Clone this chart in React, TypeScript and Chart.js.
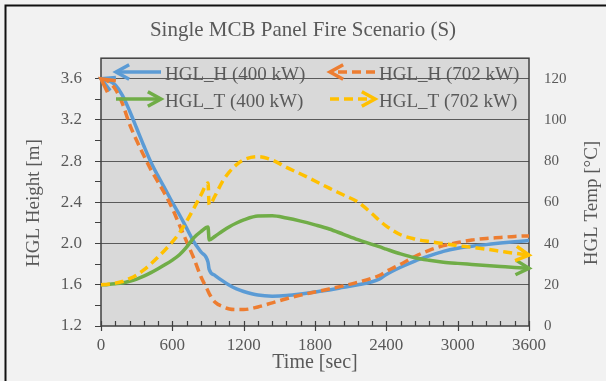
import React, { useEffect, useRef } from 'react';
import { Chart, registerables } from 'chart.js';

Chart.register(...registerables);

// ---- data ----
const times = [0, 60, 120, 180, 240, 300, 360, 420, 480, 540, 600, 660, 720, 780, 840, 900, 910, 960, 1020, 1080, 1140, 1200, 1320, 1440, 1560, 1680, 1800, 1920, 2040, 2160, 2280, 2340, 2400, 2520, 2640, 2760, 2880, 3000, 3120, 3240, 3360, 3480, 3600];

const hglH400 = [3.60, 3.585, 3.54, 3.44, 3.29, 3.12, 2.95, 2.79, 2.655, 2.53, 2.40, 2.28, 2.15, 2.02, 1.92, 1.82, 1.75, 1.69, 1.64, 1.595, 1.56, 1.535, 1.50, 1.49, 1.495, 1.51, 1.53, 1.55, 1.575, 1.60, 1.63, 1.655, 1.70, 1.77, 1.83, 1.88, 1.925, 1.955, 1.975, 1.99, 2.005, 2.018, 2.03];
const hglH702 = [3.60, 3.575, 3.50, 3.36, 3.16, 3.00, 2.855, 2.716, 2.597, 2.477, 2.34, 2.18, 2.02, 1.86, 1.68, 1.54, 1.515, 1.43, 1.39, 1.365, 1.36, 1.36, 1.385, 1.425, 1.465, 1.50, 1.53, 1.56, 1.59, 1.625, 1.665, 1.69, 1.73, 1.80, 1.875, 1.935, 1.98, 2.01, 2.035, 2.05, 2.06, 2.07, 2.075];
const hglT400 = [20, 20.2, 20.5, 20.9, 21.7, 22.8, 24.2, 25.9, 27.8, 29.8, 32.0, 34.6, 38.3, 42.8, 45.8, 48.0, 41.8, 43.6, 46.0, 48.2, 50.0, 51.5, 53.4, 53.5, 52.4, 50.9, 49.1, 47.1, 44.5, 41.9, 39.6, 38.5, 37.3, 35.0, 33.1, 31.9, 31.0, 30.4, 29.9, 29.4, 28.9, 28.4, 28.0];
const hglT702 = [20, 20.3, 20.8, 21.6, 23.0, 24.8, 27.2, 30.2, 33.5, 37.0, 40.8, 45.2, 50.8, 57.0, 63.5, 69.4, 58.8, 63.3, 70.0, 74.8, 78.3, 80.7, 82.2, 80.6, 77.0, 73.8, 70.4, 66.9, 63.6, 60.2, 54.5, 51.3, 48.5, 44.3, 42.2, 41.0, 40.0, 39.0, 38.2, 37.3, 36.3, 35.3, 34.4];

const seriesLabels = ['HGL_H (400 kW)', 'HGL_H (702 kW)', 'HGL_T (400 kW)', 'HGL_T (702 kW)'];

const xTicks = [0, 600, 1200, 1800, 2400, 3000, 3600];
const leftTicks = [1.2, 1.6, 2.0, 2.4, 2.8, 3.2, 3.6];
const rightTicks = [0, 20, 40, 60, 80, 100, 120];

const leftTitle = 'HGL Height [m]';
const rightTitle = 'HGL Temp [°C]';

// ---- styling ----
const FONT = "'Times New Roman', 'Liberation Serif', serif";
const TEXT = '#595959';
const BLUE = '#5b9bd5';
const ORANGE = '#ed7d31';
const GREEN = '#70ad47';
const YELLOW = '#ffc000';

const pts = (vals: number[]) => times.map((t, i) => ({ x: t, y: vals[i] }));

function chevron(ctx: CanvasRenderingContext2D, x: number, y: number, angle: number, color: string) {
  const size = 15;
  const half = 0.5;
  ctx.save();
  ctx.setLineDash([]);
  ctx.strokeStyle = color;
  ctx.lineWidth = 3.5;
  ctx.lineJoin = 'miter';
  ctx.lineCap = 'butt';
  const a1 = angle + Math.PI - half;
  const a2 = angle + Math.PI + half;
  ctx.beginPath();
  ctx.moveTo(x + size * Math.cos(a1), y + size * Math.sin(a1));
  ctx.lineTo(x, y);
  ctx.lineTo(x + size * Math.cos(a2), y + size * Math.sin(a2));
  ctx.stroke();
  ctx.restore();
}

const backgroundPlugin = {
  id: 'bgPlugin',
  beforeDraw(chart: any) {
    const { ctx, chartArea: a, width, height } = chart;
    ctx.save();
    ctx.fillStyle = '#f2f2f2';
    ctx.fillRect(0, 0, width, height);
    ctx.strokeStyle = '#111111';
    ctx.lineWidth = 2;
    ctx.beginPath();
    ctx.moveTo(5.5, height);
    ctx.lineTo(5.5, 5.5);
    ctx.lineTo(width, 5.5);
    ctx.stroke();
    ctx.fillStyle = '#d9d9d9';
    ctx.fillRect(a.left, a.top, a.right - a.left, a.bottom - a.top);
    ctx.restore();
  },
};

const framePlugin = {
  id: 'framePlugin',
  beforeDatasetsDraw(chart: any) {
    const { ctx, chartArea: a, scales } = chart;
    const xs = scales.x;
    ctx.save();
    ctx.strokeStyle = '#404040';
    ctx.lineWidth = 1.5;
    ctx.strokeRect(a.left, a.top, a.right - a.left, a.bottom - a.top);
    ctx.lineWidth = 1.2;
    ctx.beginPath();
    for (let t = 0; t <= 3600; t += 120) {
      const px = Math.round(xs.getPixelForValue(t)) + 0.5;
      const major = xTicks.includes(t);
      ctx.moveTo(px, a.bottom - 5);
      ctx.lineTo(px, a.bottom + (major ? 5 : 0));
    }
    ctx.stroke();
    // rotated axis titles (both read bottom-to-top)
    const cy = (a.top + a.bottom) / 2 + 11;
    ctx.fillStyle = TEXT;
    ctx.font = `19px ${FONT}`;
    ctx.textAlign = 'center';
    ctx.textBaseline = 'middle';
    [[34, leftTitle], [592, rightTitle]].forEach(([x, txt]) => {
      ctx.save();
      ctx.translate(x as number, cy);
      ctx.rotate(-Math.PI / 2);
      ctx.fillText(txt as string, 0, 0);
      ctx.restore();
    });
    ctx.restore();
  },
};

const arrowPlugin = {
  id: 'arrowPlugin',
  afterDatasetsDraw(chart: any) {
    const { ctx } = chart;
    chart.data.datasets.forEach((ds: any, i: number) => {
      const p = chart.getDatasetMeta(i).data;
      if (ds.arrowStart) {
        const a = Math.atan2(p[0].y - p[2].y, p[0].x - p[2].x);
        chevron(ctx, p[0].x, p[0].y, a, ds.borderColor);
      }
      if (ds.arrowEnd) {
        const n = p.length;
        const a = Math.atan2(p[n - 1].y - p[n - 2].y, p[n - 1].x - p[n - 2].x);
        chevron(ctx, p[n - 1].x, p[n - 1].y, a, ds.borderColor);
      }
    });
  },
};

const legendPlugin = {
  id: 'arrowLegend',
  afterDraw(chart: any) {
    const { ctx } = chart;
    const cols = [116, 330];
    const rows = [72, 99];
    ctx.save();
    chart.data.datasets.forEach((ds: any, i: number) => {
      const x0 = cols[i % 2];
      const y = rows[Math.floor(i / 2)];
      const x1 = x0 + 45;
      ctx.save();
      ctx.strokeStyle = ds.borderColor;
      ctx.lineWidth = 3.5;
      ctx.setLineDash(ds.borderDash || []);
      ctx.beginPath();
      if (ds.arrowStart) {
        ctx.moveTo(x1, y);
        ctx.lineTo(x0 + 2, y);
      } else {
        ctx.moveTo(x0, y);
        ctx.lineTo(x1 - 2, y);
      }
      ctx.stroke();
      ctx.restore();
      if (ds.arrowStart) chevron(ctx, x0, y, Math.PI, ds.borderColor);
      else chevron(ctx, x1, y, 0, ds.borderColor);
      ctx.fillStyle = TEXT;
      ctx.font = `19px ${FONT}`;
      ctx.textBaseline = 'alphabetic';
      ctx.textAlign = 'left';
      ctx.fillText(ds.label, x1 + 4, y + 8);
    });
    ctx.restore();
  },
};

export default function App() {
  const ref = useRef<HTMLCanvasElement>(null);

  useEffect(() => {
    const minorLeft: number[] = [];
    for (let i = 0; i <= 12; i++) minorLeft.push(+(1.2 + 0.2 * i).toFixed(1));
    const isMajorLeft = (v: number) => leftTicks.some((t) => Math.abs(t - v) < 1e-6);

    const chart = new Chart(ref.current as HTMLCanvasElement, {
      type: 'line',
      data: {
        datasets: [
          { label: seriesLabels[0], data: pts(hglH400), borderColor: BLUE, borderWidth: 3.5, yAxisID: 'y', order: 4, arrowStart: true } as any,
          { label: seriesLabels[1], data: pts(hglH702), borderColor: ORANGE, borderWidth: 3.5, borderDash: [9, 5], yAxisID: 'y', order: 3, arrowStart: true } as any,
          { label: seriesLabels[2], data: pts(hglT400), borderColor: GREEN, borderWidth: 3.5, yAxisID: 'y2', order: 2, arrowEnd: true } as any,
          { label: seriesLabels[3], data: pts(hglT702), borderColor: YELLOW, borderWidth: 3.5, borderDash: [9, 5], yAxisID: 'y2', order: 1, arrowEnd: true } as any,
        ],
      },
      options: {
        animation: false,
        responsive: false,
        devicePixelRatio: 1,
        elements: {
          point: { radius: 0, hoverRadius: 0 },
          line: { cubicInterpolationMode: 'monotone', fill: false, borderCapStyle: 'butt' },
        },
        layout: { padding: 0 },
        plugins: {
          legend: { display: false },
          tooltip: { enabled: false },
          title: {
            display: true,
            text: 'Single MCB Panel Fire Scenario (S)',
            color: TEXT,
            font: { family: FONT, size: 21, weight: 'normal' },
            padding: { top: 18, bottom: 15 },
          },
        },
        scales: {
          x: {
            type: 'linear',
            min: 0,
            max: 3600,
            afterBuildTicks: (s: any) => { s.ticks = xTicks.map((v) => ({ value: v })); },
            ticks: { color: TEXT, font: { family: FONT, size: 17 }, padding: 9, maxRotation: 0, autoSkip: false, callback: (v: any) => String(v) },
            grid: { drawOnChartArea: false, drawTicks: false },
            border: { display: false },
            title: { display: true, text: 'Time [sec]', color: TEXT, font: { family: FONT, size: 20 }, padding: { top: 0, bottom: 6 } },
            afterFit: (s: any) => { s.height = 55; },
          },
          y: {
            type: 'linear',
            position: 'left',
            min: 1.2,
            max: 3.8,
            afterBuildTicks: (s: any) => { s.ticks = minorLeft.map((v) => ({ value: v })); },
            ticks: {
              color: TEXT,
              font: { family: FONT, size: 17 },
              padding: 13,
              autoSkip: false,
              callback: (v: any) => (isMajorLeft(Number(v)) ? Number(v).toFixed(1) : ''),
            },
            grid: {
              color: (c: any) => (c.tick && isMajorLeft(c.tick.value) && c.tick.value > 1.3 ? '#5a5a5a' : 'rgba(0,0,0,0)'),
              tickColor: '#404040',
              tickLength: 6,
              lineWidth: 1,
            },
            border: { display: false },
            title: { display: false },
            afterFit: (s: any) => { s.width = 101; },
          },
          y2: {
            type: 'linear',
            position: 'right',
            min: 0,
            max: 130,
            afterBuildTicks: (s: any) => { s.ticks = rightTicks.map((v) => ({ value: v })); },
            ticks: { color: TEXT, font: { family: FONT, size: 15 }, padding: 15, autoSkip: false },
            grid: { drawOnChartArea: false, drawTicks: false },
            border: { display: false },
            title: { display: false },
            afterFit: (s: any) => { s.width = 77; },
          },
        },
      } as any,
      plugins: [backgroundPlugin, framePlugin, arrowPlugin, legendPlugin],
    });
    return () => chart.destroy();
  }, []);

  return (
    <div style={{ position: 'fixed', left: 0, top: 0, width: 606, height: 381, background: '#f2f2f2' }}>
      <canvas ref={ref} width={606} height={381} style={{ display: 'block', width: 606, height: 381 }} />
    </div>
  );
}
